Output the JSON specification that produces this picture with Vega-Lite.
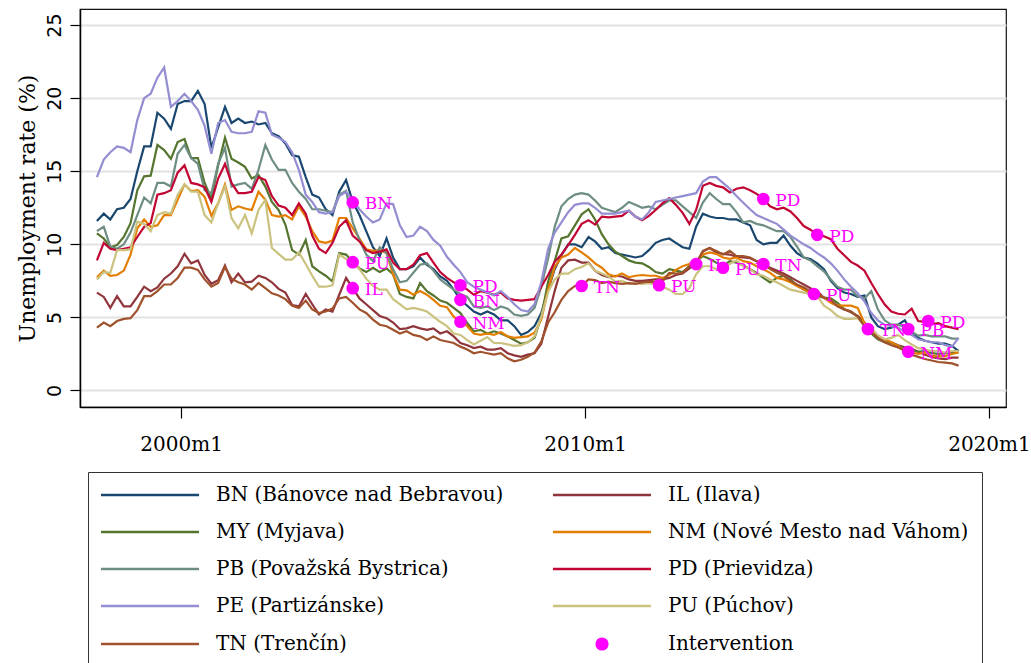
{
  "$schema": "https://vega.github.io/schema/vega-lite/v6.json",
  "width": 926,
  "height": 398,
  "autosize": {"type": "none"},
  "padding": {"left": 80, "top": 9, "right": 25, "bottom": 256},
  "background": "white",
  "config": {
    "view": {"stroke": "#111111", "strokeWidth": 1.2},
    "font": "DejaVu Serif"
  },
  "datasets": {
    "rates": [
      {"t":"1997-12","BN":11.6,"IL":6.7,"MY":10.75,"NM":7.75,"PB":10.9,"PD":8.9,"PE":14.6,"PU":7.6,"TN":4.3},
      {"t":"1998-02","BN":12.1,"IL":6.4,"MY":10.4,"NM":8.2,"PB":11.2,"PD":10.1,"PE":15.8,"PU":8.1,"TN":4.65},
      {"t":"1998-04","BN":11.7,"IL":5.65,"MY":9.8,"NM":7.85,"PB":9.85,"PD":9.7,"PE":16.3,"PU":8.05,"TN":4.4},
      {"t":"1998-06","BN":12.4,"IL":6.45,"MY":9.95,"NM":7.9,"PB":9.7,"PD":9.6,"PE":16.7,"PU":9.6,"TN":4.75},
      {"t":"1998-08","BN":12.5,"IL":5.75,"MY":10.5,"NM":8.2,"PB":10.0,"PD":9.7,"PE":16.6,"PU":9.6,"TN":4.9},
      {"t":"1998-10","BN":13.1,"IL":5.75,"MY":11.45,"NM":9.3,"PB":10.8,"PD":9.8,"PE":16.3,"PU":9.65,"TN":4.95},
      {"t":"1998-12","BN":15.0,"IL":6.4,"MY":13.7,"NM":11.1,"PB":12.0,"PD":10.5,"PE":18.5,"PU":11.55,"TN":5.5},
      {"t":"1999-02","BN":16.7,"IL":7.1,"MY":14.65,"NM":11.7,"PB":13.2,"PD":11.2,"PE":20.0,"PU":11.4,"TN":6.45},
      {"t":"1999-04","BN":16.7,"IL":6.8,"MY":14.7,"NM":11.2,"PB":12.8,"PD":11.45,"PE":20.3,"PU":10.9,"TN":6.45},
      {"t":"1999-06","BN":19.0,"IL":7.05,"MY":16.8,"NM":11.3,"PB":14.2,"PD":13.4,"PE":21.4,"PU":12.0,"TN":6.8},
      {"t":"1999-08","BN":18.6,"IL":7.65,"MY":16.45,"NM":12.0,"PB":14.2,"PD":13.5,"PE":22.1,"PU":12.2,"TN":7.25},
      {"t":"1999-10","BN":17.9,"IL":8.0,"MY":15.85,"NM":12.0,"PB":13.95,"PD":13.7,"PE":19.4,"PU":12.1,"TN":7.25},
      {"t":"1999-12","BN":19.6,"IL":8.5,"MY":17.0,"NM":13.05,"PB":16.2,"PD":14.9,"PE":19.8,"PU":13.4,"TN":7.7},
      {"t":"2000-02","BN":19.8,"IL":9.35,"MY":17.2,"NM":14.1,"PB":16.8,"PD":15.4,"PE":20.3,"PU":14.1,"TN":8.4},
      {"t":"2000-04","BN":19.8,"IL":8.7,"MY":15.9,"NM":13.65,"PB":15.9,"PD":14.2,"PE":19.8,"PU":13.6,"TN":8.4},
      {"t":"2000-06","BN":20.5,"IL":8.9,"MY":15.9,"NM":13.7,"PB":15.5,"PD":14.1,"PE":19.2,"PU":13.6,"TN":8.25},
      {"t":"2000-08","BN":19.6,"IL":7.9,"MY":14.2,"NM":13.25,"PB":13.7,"PD":13.9,"PE":18.1,"PU":12.0,"TN":7.6},
      {"t":"2000-10","BN":16.6,"IL":7.3,"MY":13.1,"NM":11.95,"PB":13.5,"PD":12.9,"PE":16.2,"PU":11.5,"TN":7.1},
      {"t":"2000-12","BN":18.0,"IL":7.55,"MY":15.4,"NM":12.8,"PB":15.5,"PD":14.5,"PE":18.3,"PU":12.8,"TN":7.35},
      {"t":"2001-02","BN":19.4,"IL":8.55,"MY":17.3,"NM":14.1,"PB":16.6,"PD":15.5,"PE":18.5,"PU":13.95,"TN":8.45},
      {"t":"2001-04","BN":18.3,"IL":7.4,"MY":15.85,"NM":12.35,"PB":13.95,"PD":14.2,"PE":17.7,"PU":11.8,"TN":7.65},
      {"t":"2001-06","BN":18.6,"IL":8.0,"MY":15.6,"NM":12.6,"PB":14.1,"PD":13.5,"PE":17.6,"PU":11.1,"TN":7.4},
      {"t":"2001-08","BN":18.3,"IL":7.4,"MY":15.3,"NM":12.45,"PB":14.2,"PD":13.5,"PE":17.6,"PU":12.0,"TN":7.25},
      {"t":"2001-10","BN":18.4,"IL":7.45,"MY":14.5,"NM":12.35,"PB":13.8,"PD":13.6,"PE":17.7,"PU":10.75,"TN":6.9},
      {"t":"2001-12","BN":18.2,"IL":7.85,"MY":14.75,"NM":13.6,"PB":15.1,"PD":14.6,"PE":19.1,"PU":12.35,"TN":7.35},
      {"t":"2002-02","BN":18.3,"IL":7.7,"MY":13.95,"NM":13.05,"PB":16.8,"PD":14.4,"PE":19.0,"PU":13.05,"TN":7.0},
      {"t":"2002-04","BN":17.6,"IL":7.4,"MY":12.9,"NM":12.0,"PB":15.8,"PD":13.3,"PE":17.5,"PU":9.75,"TN":6.65},
      {"t":"2002-06","BN":17.4,"IL":6.95,"MY":12.35,"NM":11.9,"PB":15.1,"PD":12.65,"PE":17.3,"PU":9.35,"TN":6.5},
      {"t":"2002-08","BN":16.9,"IL":6.7,"MY":11.35,"NM":12.0,"PB":15.1,"PD":12.5,"PE":17.0,"PU":8.95,"TN":6.25},
      {"t":"2002-10","BN":16.1,"IL":5.85,"MY":9.6,"NM":11.7,"PB":14.2,"PD":12.0,"PE":16.3,"PU":8.95,"TN":5.8},
      {"t":"2002-12","BN":16.0,"IL":5.75,"MY":9.3,"NM":12.6,"PB":13.6,"PD":12.8,"PE":15.1,"PU":9.45,"TN":5.65},
      {"t":"2003-02","BN":14.6,"IL":6.6,"MY":10.3,"NM":11.9,"PB":13.1,"PD":12.1,"PE":13.4,"PU":8.65,"TN":6.15},
      {"t":"2003-04","BN":13.4,"IL":5.9,"MY":8.5,"NM":10.9,"PB":12.4,"PD":10.6,"PE":12.9,"PU":7.85,"TN":5.55},
      {"t":"2003-06","BN":13.2,"IL":5.2,"MY":8.15,"NM":10.2,"PB":12.4,"PD":9.7,"PE":12.2,"PU":7.1,"TN":5.3},
      {"t":"2003-08","BN":12.4,"IL":5.55,"MY":7.85,"NM":10.1,"PB":12.3,"PD":9.4,"PE":12.1,"PU":7.1,"TN":5.4},
      {"t":"2003-10","BN":12.0,"IL":5.4,"MY":7.45,"NM":10.25,"PB":12.2,"PD":10.1,"PE":12.2,"PU":7.2,"TN":5.6},
      {"t":"2003-12","BN":13.6,"IL":6.55,"MY":9.4,"NM":11.8,"PB":13.4,"PD":11.2,"PE":13.3,"PU":9.3,"TN":6.3},
      {"t":"2004-02","BN":14.4,"IL":7.7,"MY":9.3,"NM":11.8,"PB":13.65,"PD":11.65,"PE":13.6,"PU":9.0,"TN":6.4},
      {"t":"2004-04","BN":12.9,"IL":7.0,"MY":8.8,"NM":11.1,"PB":11.5,"PD":10.6,"PE":13.0,"PU":8.8,"TN":6.0},
      {"t":"2004-06","BN":12.0,"IL":6.3,"MY":8.35,"NM":10.4,"PB":10.3,"PD":10.2,"PE":12.4,"PU":8.3,"TN":5.55},
      {"t":"2004-08","BN":10.9,"IL":5.9,"MY":8.1,"NM":9.65,"PB":9.3,"PD":9.6,"PE":11.9,"PU":7.65,"TN":5.3},
      {"t":"2004-10","BN":9.8,"IL":5.5,"MY":8.4,"NM":9.55,"PB":8.85,"PD":9.4,"PE":11.5,"PU":7.15,"TN":4.85},
      {"t":"2004-12","BN":9.2,"IL":5.1,"MY":8.1,"NM":9.6,"PB":9.8,"PD":9.5,"PE":11.7,"PU":6.9,"TN":4.5},
      {"t":"2005-02","BN":10.4,"IL":4.95,"MY":8.35,"NM":9.4,"PB":9.4,"PD":9.65,"PE":12.8,"PU":6.9,"TN":4.4},
      {"t":"2005-04","BN":9.1,"IL":4.65,"MY":7.95,"NM":7.95,"PB":8.3,"PD":8.75,"PE":12.75,"PU":6.25,"TN":4.15},
      {"t":"2005-06","BN":8.3,"IL":4.2,"MY":6.6,"NM":6.9,"PB":7.4,"PD":8.3,"PE":11.3,"PU":5.9,"TN":3.9},
      {"t":"2005-08","BN":8.3,"IL":4.25,"MY":6.4,"NM":6.85,"PB":7.5,"PD":8.3,"PE":10.5,"PU":5.55,"TN":4.05},
      {"t":"2005-10","BN":8.5,"IL":4.4,"MY":6.3,"NM":6.55,"PB":8.05,"PD":8.6,"PE":10.6,"PU":5.65,"TN":3.8},
      {"t":"2005-12","BN":9.1,"IL":4.25,"MY":7.35,"NM":6.8,"PB":8.6,"PD":9.25,"PE":11.2,"PU":5.55,"TN":3.7},
      {"t":"2006-02","BN":8.6,"IL":4.15,"MY":6.8,"NM":6.55,"PB":8.7,"PD":9.4,"PE":10.9,"PU":5.4,"TN":3.45},
      {"t":"2006-04","BN":8.3,"IL":4.25,"MY":6.5,"NM":6.2,"PB":8.2,"PD":8.75,"PE":10.3,"PU":5.05,"TN":3.7},
      {"t":"2006-06","BN":7.8,"IL":3.9,"MY":6.15,"NM":5.8,"PB":7.6,"PD":8.1,"PE":9.9,"PU":4.7,"TN":3.45},
      {"t":"2006-08","BN":7.5,"IL":4.05,"MY":6.0,"NM":5.7,"PB":7.25,"PD":7.7,"PE":9.15,"PU":4.4,"TN":3.35},
      {"t":"2006-10","BN":6.9,"IL":3.7,"MY":5.65,"NM":5.05,"PB":6.9,"PD":7.4,"PE":8.6,"PU":3.9,"TN":3.25},
      {"t":"2006-12","BN":6.2,"IL":3.25,"MY":5.3,"NM":4.7,"PB":6.6,"PD":7.2,"PE":8.1,"PU":3.8,"TN":3.0},
      {"t":"2007-02","BN":5.8,"IL":3.1,"MY":4.6,"NM":4.4,"PB":6.4,"PD":6.9,"PE":7.4,"PU":3.45,"TN":2.8},
      {"t":"2007-04","BN":5.4,"IL":2.9,"MY":4.05,"NM":3.9,"PB":5.75,"PD":6.55,"PE":7.1,"PU":3.15,"TN":2.55},
      {"t":"2007-06","BN":5.2,"IL":3.0,"MY":4.15,"NM":3.8,"PB":5.65,"PD":6.8,"PE":6.9,"PU":3.4,"TN":2.65},
      {"t":"2007-08","BN":5.4,"IL":2.8,"MY":3.9,"NM":3.9,"PB":5.75,"PD":6.7,"PE":6.7,"PU":3.65,"TN":2.55},
      {"t":"2007-10","BN":5.2,"IL":2.8,"MY":4.05,"NM":3.8,"PB":5.5,"PD":6.55,"PE":6.5,"PU":3.25,"TN":2.45},
      {"t":"2007-12","BN":4.8,"IL":2.9,"MY":3.9,"NM":4.0,"PB":5.75,"PD":6.7,"PE":6.8,"PU":3.25,"TN":2.55},
      {"t":"2008-02","BN":4.8,"IL":2.55,"MY":3.7,"NM":3.7,"PB":5.6,"PD":6.3,"PE":6.4,"PU":3.15,"TN":2.2},
      {"t":"2008-04","BN":4.4,"IL":2.4,"MY":3.45,"NM":3.6,"PB":5.2,"PD":6.2,"PE":5.9,"PU":3.05,"TN":2.0},
      {"t":"2008-06","BN":3.8,"IL":2.3,"MY":3.2,"NM":3.65,"PB":5.1,"PD":6.15,"PE":5.5,"PU":3.1,"TN":2.1},
      {"t":"2008-08","BN":4.0,"IL":2.45,"MY":3.3,"NM":3.7,"PB":5.2,"PD":6.2,"PE":5.4,"PU":3.3,"TN":2.3},
      {"t":"2008-10","BN":4.4,"IL":2.55,"MY":3.6,"NM":3.95,"PB":5.65,"PD":6.25,"PE":5.9,"PU":3.7,"TN":2.6},
      {"t":"2008-12","BN":5.3,"IL":3.2,"MY":5.05,"NM":4.85,"PB":7.1,"PD":7.1,"PE":7.4,"PU":5.05,"TN":3.35},
      {"t":"2009-02","BN":6.9,"IL":5.05,"MY":7.45,"NM":6.9,"PB":9.05,"PD":7.9,"PE":9.7,"PU":6.75,"TN":4.65},
      {"t":"2009-04","BN":8.3,"IL":6.8,"MY":8.85,"NM":8.45,"PB":11.2,"PD":8.8,"PE":10.8,"PU":7.6,"TN":5.35},
      {"t":"2009-06","BN":9.25,"IL":8.4,"MY":10.4,"NM":9.1,"PB":12.6,"PD":9.3,"PE":11.5,"PU":8.0,"TN":6.2},
      {"t":"2009-08","BN":10.0,"IL":8.9,"MY":10.55,"NM":9.3,"PB":13.1,"PD":9.95,"PE":12.2,"PU":8.0,"TN":6.8},
      {"t":"2009-10","BN":10.0,"IL":8.95,"MY":11.3,"NM":9.75,"PB":13.4,"PD":10.65,"PE":12.7,"PU":8.3,"TN":7.15},
      {"t":"2009-12","BN":9.8,"IL":8.75,"MY":12.05,"NM":9.45,"PB":13.5,"PD":11.4,"PE":12.8,"PU":8.45,"TN":7.15},
      {"t":"2010-02","BN":10.5,"IL":8.75,"MY":12.4,"NM":9.1,"PB":13.4,"PD":11.65,"PE":12.8,"PU":8.7,"TN":7.6},
      {"t":"2010-04","BN":10.2,"IL":8.2,"MY":11.7,"NM":8.7,"PB":13.0,"PD":11.35,"PE":12.5,"PU":8.2,"TN":7.55},
      {"t":"2010-06","BN":9.7,"IL":7.9,"MY":10.7,"NM":8.4,"PB":12.5,"PD":11.9,"PE":12.1,"PU":8.0,"TN":7.35},
      {"t":"2010-08","BN":9.8,"IL":7.75,"MY":10.0,"NM":7.95,"PB":12.35,"PD":11.85,"PE":12.1,"PU":7.8,"TN":7.45},
      {"t":"2010-10","BN":9.4,"IL":7.85,"MY":9.5,"NM":7.8,"PB":12.2,"PD":11.9,"PE":12.1,"PU":7.45,"TN":7.35},
      {"t":"2010-12","BN":9.3,"IL":7.8,"MY":9.2,"NM":8.0,"PB":12.5,"PD":11.95,"PE":12.2,"PU":7.5,"TN":7.3},
      {"t":"2011-02","BN":9.2,"IL":7.6,"MY":8.9,"NM":7.75,"PB":12.9,"PD":12.3,"PE":12.3,"PU":7.3,"TN":7.35},
      {"t":"2011-04","BN":9.1,"IL":7.5,"MY":8.75,"NM":7.85,"PB":12.7,"PD":11.9,"PE":11.9,"PU":7.35,"TN":7.3},
      {"t":"2011-06","BN":9.2,"IL":7.5,"MY":8.7,"NM":7.9,"PB":12.5,"PD":11.65,"PE":11.7,"PU":7.3,"TN":7.4},
      {"t":"2011-08","BN":9.6,"IL":7.55,"MY":8.45,"NM":7.85,"PB":12.6,"PD":11.95,"PE":12.2,"PU":7.35,"TN":7.45},
      {"t":"2011-10","BN":10.1,"IL":7.6,"MY":8.1,"NM":7.85,"PB":12.4,"PD":12.35,"PE":12.9,"PU":7.25,"TN":7.4},
      {"t":"2011-12","BN":10.3,"IL":7.6,"MY":8.0,"NM":7.7,"PB":12.7,"PD":12.8,"PE":13.0,"PU":7.1,"TN":7.45},
      {"t":"2012-02","BN":10.4,"IL":7.7,"MY":8.3,"NM":7.9,"PB":13.0,"PD":13.15,"PE":13.1,"PU":6.9,"TN":8.05},
      {"t":"2012-04","BN":10.1,"IL":7.9,"MY":8.2,"NM":8.25,"PB":13.0,"PD":12.7,"PE":13.2,"PU":6.6,"TN":8.0},
      {"t":"2012-06","BN":9.8,"IL":8.0,"MY":8.1,"NM":8.5,"PB":12.6,"PD":12.15,"PE":13.3,"PU":6.6,"TN":8.05},
      {"t":"2012-08","BN":9.7,"IL":8.35,"MY":8.5,"NM":8.65,"PB":12.2,"PD":11.4,"PE":13.4,"PU":7.0,"TN":8.5},
      {"t":"2012-10","BN":11.2,"IL":8.65,"MY":8.85,"NM":8.9,"PB":11.8,"PD":12.35,"PE":13.5,"PU":7.95,"TN":8.7},
      {"t":"2012-12","BN":12.1,"IL":9.5,"MY":9.2,"NM":9.3,"PB":12.85,"PD":14.0,"PE":14.3,"PU":8.5,"TN":9.55},
      {"t":"2013-02","BN":11.9,"IL":9.75,"MY":9.0,"NM":9.45,"PB":13.5,"PD":14.2,"PE":14.6,"PU":8.5,"TN":9.75},
      {"t":"2013-04","BN":11.8,"IL":9.45,"MY":8.75,"NM":9.35,"PB":13.1,"PD":14.0,"PE":14.6,"PU":8.3,"TN":9.55},
      {"t":"2013-06","BN":11.8,"IL":9.35,"MY":8.5,"NM":9.1,"PB":12.75,"PD":13.9,"PE":14.2,"PU":8.4,"TN":9.3},
      {"t":"2013-08","BN":11.7,"IL":9.3,"MY":8.85,"NM":9.0,"PB":12.75,"PD":13.55,"PE":13.8,"PU":8.65,"TN":9.55},
      {"t":"2013-10","BN":11.7,"IL":9.15,"MY":8.75,"NM":9.1,"PB":12.2,"PD":13.8,"PE":13.3,"PU":8.9,"TN":9.2},
      {"t":"2013-12","BN":11.5,"IL":9.1,"MY":8.55,"NM":8.85,"PB":11.5,"PD":13.9,"PE":12.85,"PU":8.5,"TN":9.2},
      {"t":"2014-02","BN":11.3,"IL":9.05,"MY":8.3,"NM":8.75,"PB":11.6,"PD":13.7,"PE":12.4,"PU":8.3,"TN":9.1},
      {"t":"2014-04","BN":10.3,"IL":8.85,"MY":8.05,"NM":8.5,"PB":11.4,"PD":13.45,"PE":12.0,"PU":7.95,"TN":8.85},
      {"t":"2014-06","BN":10.0,"IL":8.65,"MY":7.7,"NM":8.3,"PB":11.3,"PD":13.1,"PE":11.8,"PU":7.85,"TN":8.65},
      {"t":"2014-08","BN":10.1,"IL":8.4,"MY":7.4,"NM":8.05,"PB":11.1,"PD":12.6,"PE":11.6,"PU":7.6,"TN":8.3},
      {"t":"2014-10","BN":10.1,"IL":8.2,"MY":7.7,"NM":7.7,"PB":10.9,"PD":12.4,"PE":11.4,"PU":7.4,"TN":8.05},
      {"t":"2014-12","BN":10.6,"IL":8.0,"MY":7.85,"NM":7.6,"PB":10.9,"PD":12.5,"PE":11.0,"PU":7.15,"TN":7.85},
      {"t":"2015-02","BN":9.9,"IL":7.75,"MY":7.6,"NM":7.4,"PB":10.5,"PD":12.25,"PE":10.6,"PU":6.9,"TN":7.5},
      {"t":"2015-04","BN":9.4,"IL":7.5,"MY":7.2,"NM":7.15,"PB":9.85,"PD":11.8,"PE":10.3,"PU":6.8,"TN":7.25},
      {"t":"2015-06","BN":9.1,"IL":7.25,"MY":6.9,"NM":6.9,"PB":9.1,"PD":11.25,"PE":10.0,"PU":6.7,"TN":7.05},
      {"t":"2015-08","BN":9.0,"IL":7.0,"MY":6.7,"NM":6.7,"PB":8.9,"PD":11.0,"PE":9.75,"PU":6.6,"TN":6.8},
      {"t":"2015-10","BN":8.7,"IL":6.8,"MY":6.45,"NM":6.6,"PB":8.5,"PD":10.65,"PE":9.4,"PU":6.45,"TN":6.6},
      {"t":"2015-12","BN":8.3,"IL":6.35,"MY":6.35,"NM":6.35,"PB":8.15,"PD":10.55,"PE":9.1,"PU":5.8,"TN":6.35},
      {"t":"2016-02","BN":7.5,"IL":6.05,"MY":6.3,"NM":6.0,"PB":7.6,"PD":10.35,"PE":8.7,"PU":5.5,"TN":6.2},
      {"t":"2016-04","BN":7.0,"IL":5.8,"MY":6.0,"NM":5.8,"PB":7.1,"PD":9.7,"PE":8.2,"PU":5.1,"TN":5.75},
      {"t":"2016-06","BN":6.7,"IL":5.55,"MY":5.55,"NM":5.8,"PB":6.9,"PD":9.25,"PE":7.6,"PU":4.9,"TN":5.55},
      {"t":"2016-08","BN":6.6,"IL":5.35,"MY":5.4,"NM":5.8,"PB":6.9,"PD":8.8,"PE":7.1,"PU":4.9,"TN":5.4},
      {"t":"2016-10","BN":6.4,"IL":5.1,"MY":5.05,"NM":5.65,"PB":6.45,"PD":8.55,"PE":6.65,"PU":4.95,"TN":5.05},
      {"t":"2016-12","BN":6.5,"IL":4.65,"MY":4.45,"NM":4.6,"PB":6.3,"PD":8.2,"PE":6.1,"PU":4.5,"TN":4.4},
      {"t":"2017-02","BN":5.0,"IL":4.1,"MY":3.9,"NM":4.15,"PB":6.8,"PD":7.35,"PE":5.3,"PU":4.3,"TN":4.0},
      {"t":"2017-04","BN":4.4,"IL":3.6,"MY":3.5,"NM":3.75,"PB":5.55,"PD":6.6,"PE":4.8,"PU":3.75,"TN":3.6},
      {"t":"2017-06","BN":4.2,"IL":3.45,"MY":3.3,"NM":3.5,"PB":4.8,"PD":5.9,"PE":4.5,"PU":3.5,"TN":3.3},
      {"t":"2017-08","BN":4.3,"IL":3.3,"MY":3.25,"NM":3.3,"PB":4.5,"PD":5.4,"PE":4.4,"PU":3.6,"TN":3.1},
      {"t":"2017-10","BN":4.5,"IL":3.1,"MY":3.05,"NM":3.05,"PB":4.5,"PD":5.25,"PE":4.3,"PU":3.8,"TN":2.95},
      {"t":"2017-12","BN":4.8,"IL":2.95,"MY":2.85,"NM":2.7,"PB":4.35,"PD":5.2,"PE":4.0,"PU":3.45,"TN":2.7},
      {"t":"2018-02","BN":4.0,"IL":2.85,"MY":2.75,"NM":2.6,"PB":4.0,"PD":5.6,"PE":3.8,"PU":3.15,"TN":2.45},
      {"t":"2018-04","BN":3.6,"IL":2.65,"MY":2.65,"NM":2.5,"PB":3.75,"PD":4.75,"PE":3.5,"PU":2.9,"TN":2.3},
      {"t":"2018-06","BN":3.4,"IL":2.45,"MY":2.7,"NM":2.6,"PB":3.8,"PD":4.7,"PE":3.4,"PU":2.8,"TN":2.15},
      {"t":"2018-08","BN":3.3,"IL":2.3,"MY":2.55,"NM":2.35,"PB":3.7,"PD":4.55,"PE":3.3,"PU":2.7,"TN":2.05},
      {"t":"2018-10","BN":3.2,"IL":2.2,"MY":2.5,"NM":2.35,"PB":3.7,"PD":4.6,"PE":3.3,"PU":2.7,"TN":1.95},
      {"t":"2018-12","BN":3.2,"IL":2.15,"MY":2.55,"NM":2.35,"PB":3.7,"PD":4.4,"PE":3.1,"PU":2.6,"TN":1.9},
      {"t":"2019-02","BN":3.05,"IL":2.25,"MY":2.6,"NM":2.5,"PB":3.55,"PD":4.3,"PE":3.0,"PU":2.7,"TN":1.85},
      {"t":"2019-04","BN":2.7,"IL":2.25,"MY":2.6,"NM":2.6,"PB":3.55,"PD":4.2,"PE":3.6,"PU":2.7,"TN":1.7}
    ],
    "interventions": [
      {"region":"BN","t":"2004-04","rate":12.87},
      {"region":"PU","t":"2004-04","rate":8.78},
      {"region":"IL","t":"2004-04","rate":7.0},
      {"region":"PD","t":"2006-12","rate":7.2},
      {"region":"BN","t":"2006-12","rate":6.2},
      {"region":"NM","t":"2006-12","rate":4.7},
      {"region":"TN","t":"2009-12","rate":7.15},
      {"region":"PU","t":"2011-11","rate":7.2},
      {"region":"IL","t":"2012-10","rate":8.65},
      {"region":"PU","t":"2013-06","rate":8.4},
      {"region":"TN","t":"2014-06","rate":8.65},
      {"region":"PD","t":"2014-06","rate":13.1},
      {"region":"PD","t":"2015-10","rate":10.65},
      {"region":"PU","t":"2015-09","rate":6.6},
      {"region":"TN","t":"2017-01","rate":4.2},
      {"region":"PB","t":"2018-01","rate":4.2},
      {"region":"NM","t":"2018-01","rate":2.65},
      {"region":"PD","t":"2018-07","rate":4.75}
    ]
  },
  "encoding": {
    "x": {
      "field": "t",
      "type": "temporal",
      "scale": {
        "type": "utc",
        "domain": [
          {"year": 1997, "month": 7, "date": 1, "utc": true},
          {"year": 2020, "month": 6, "date": 3, "utc": true}
        ]
      },
      "axis": {
        "values": [
          {"year": 2000, "month": 1, "date": 1, "utc": true},
          {"year": 2010, "month": 1, "date": 1, "utc": true},
          {"year": 2020, "month": 1, "date": 1, "utc": true}
        ],
        "labelExpr": "utcFormat(datum.value, '%Y') + 'm1'",
        "title": null,
        "grid": false,
        "tickSize": 11,
        "tickColor": "#000000",
        "tickWidth": 1.2,
        "domainColor": "#000000",
        "domainWidth": 1.5,
        "labelFont": "DejaVu Serif",
        "labelFontSize": 20,
        "labelColor": "#000000",
        "labelPadding": 16,
        "labelFlush": false,
        "labelOverlap": false
      }
    },
    "y": {
      "field": "rate",
      "type": "quantitative",
      "scale": {"domain": [-1.13, 26.1], "nice": false, "zero": false},
      "axis": {
        "values": [0, 5, 10, 15, 20, 25],
        "title": "Unemployment rate (%)",
        "titleFont": "DejaVu Serif",
        "titleFontSize": 22,
        "titleFontWeight": "normal",
        "titleColor": "#000000",
        "titlePadding": 6,
        "grid": true,
        "gridColor": "#e2e2e2",
        "gridWidth": 2,
        "tickSize": 10,
        "tickColor": "#000000",
        "tickWidth": 1.2,
        "domainColor": "#000000",
        "domainWidth": 1.5,
        "labelAngle": -90,
        "labelAlign": "center",
        "labelBaseline": "bottom",
        "labelFont": "DejaVu Sans",
        "labelFontSize": 19,
        "labelColor": "#000000",
        "labelPadding": 6,
        "labelFlush": false
      }
    }
  },
  "layer": [
    {
      "data": {"name": "rates"},
      "transform": [
        {"fold": ["BN", "IL", "MY", "NM", "PB", "PD", "PE", "PU", "TN"], "as": ["region", "rate"]}
      ],
      "mark": {"type": "line", "strokeWidth": 2.2},
      "encoding": {
        "color": {
          "field": "region",
          "type": "nominal",
          "scale": {
            "domain": ["BN", "MY", "PB", "PE", "TN", "IL", "NM", "PD", "PU", "Intervention"],
            "range": ["#1a476f", "#55752f", "#6e8e84", "#938dd2", "#a0522d", "#90353b", "#e37e00", "#c10534", "#cac27e", "#ff00ff"]
          },
          "legend": {
            "title": null,
            "orient": "none",
            "legendX": 8,
            "legendY": 463,
            "columns": 2,
            "columnPadding": 43,
            "rowPadding": 17,
            "padding": 13,
            "fillColor": "#ffffff",
            "strokeColor": "#333333",
            "symbolSize": 300,
            "symbolOffset": 39,
            "symbolStrokeWidth": 2.5,
            "labelOffset": 56,
            "labelFont": "DejaVu Serif",
            "labelFontSize": 20,
            "labelColor": "#000000",
            "labelLimit": 0,
            "labelExpr": "datum.label == 'BN' ? 'BN (Bánovce nad Bebravou)' : datum.label == 'IL' ? 'IL (Ilava)' : datum.label == 'MY' ? 'MY (Myjava)' : datum.label == 'NM' ? 'NM (Nové Mesto nad Váhom)' : datum.label == 'PB' ? 'PB (Považská Bystrica)' : datum.label == 'PD' ? 'PD (Prievidza)' : datum.label == 'PE' ? 'PE (Partizánske)' : datum.label == 'PU' ? 'PU (Púchov)' : datum.label == 'TN' ? 'TN (Trenčín)' : datum.label",
            "encode": {
              "symbols": {
                "update": {
                  "shape": {"signal": "datum.value === 'Intervention' ? 'M-0.62,0A0.62,0.62,0,1,1,0.62,0A0.62,0.62,0,1,1,-0.62,0Z' : 'M-5.66,0H5.66'"},
                  "size": {"value": 300},
                  "strokeWidth": {"value": 2.5},
                  "fill": {"signal": "datum.value === 'Intervention' ? '#ff00ff' : 'transparent'"},
                  "stroke": {"signal": "scale('color', datum.value)"},
                  "opacity": {"value": 1}
                }
              }
            }
          }
        }
      }
    },
    {
      "data": {"name": "interventions"},
      "mark": {"type": "text", "align": "left", "baseline": "middle", "dx": 12, "dy": 2, "font": "DejaVu Serif", "fontSize": 17, "color": "#ff00ff"},
      "encoding": {
        "text": {"field": "region", "type": "nominal"}
      }
    },
    {
      "data": {"name": "interventions"},
      "mark": {"type": "point", "filled": true, "size": 160, "opacity": 1, "shape": "circle"},
      "encoding": {
        "color": {"datum": "Intervention"}
      }
    }
  ]
}
